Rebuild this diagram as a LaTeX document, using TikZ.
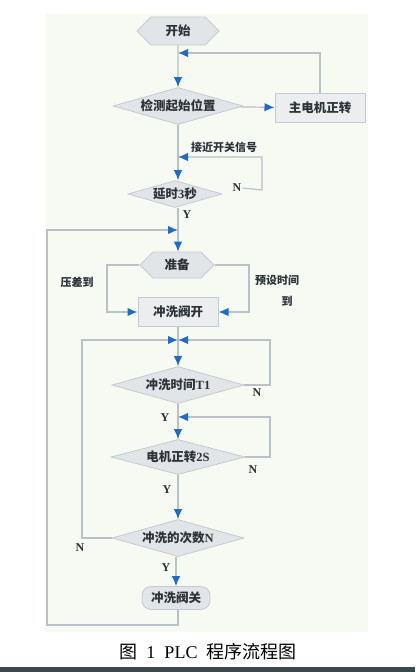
\documentclass[tikz,border=0pt]{standalone}
\usepackage{fontspec}
\setmainfont{Liberation Serif}
\newfontfamily\cjk{Noto Sans CJK SC}
\usetikzlibrary{shapes.geometric,shapes.symbols,arrows.meta}
\definecolor{ln}{HTML}{B9C0C6}
\definecolor{tip}{HTML}{1F6BC6}
\definecolor{nfill}{HTML}{E2E5E8}
\definecolor{nbord}{HTML}{C5CACF}
\definecolor{bg}{HTML}{F7FAF3}
\definecolor{txt}{HTML}{2E3338}
\definecolor{bar}{HTML}{3A4A4A}
\begin{document}
\begin{tikzpicture}[x=1pt,y=-1pt,
  every node/.style={text=txt,font=\fontsize{12.5}{14}\selectfont\bfseries},
  hexa/.style={signal, signal to=east and west, fill=nfill, draw=nbord, line width=0.8pt, inner sep=0pt},
  dia/.style={diamond, fill=nfill, draw=nbord, line width=0.8pt, inner sep=0pt},
  box/.style={rectangle, fill=nfill!70, draw=nbord, line width=1pt, inner sep=0pt},
  lab/.style={font=\fontsize{11}{13}\selectfont\bfseries, inner sep=1pt},
  yn/.style={font=\fontsize{12}{13}\selectfont\bfseries, inner sep=1pt},
  con/.style={draw=ln, line width=1.2pt},
  arr/.style={con, -{Latex[length=10pt,width=8.5pt,color=tip]}}
]
\useasboundingbox (0,0) rectangle (415,672);
\fill[white] (0,0) rectangle (415,672);
\fill[bg] (45,14) rectangle (368,632);
\fill[bar] (0,667) rectangle (415,672);

% nodes
\node[hexa, minimum width=82pt, minimum height=28pt] (start) at (178,31) {\cjk 开始};
\node[dia, minimum width=130pt, minimum height=37pt, aspect=3.5] (det) at (178,106) {\cjk 检测起始位置};
\node[box, minimum width=90pt, minimum height=29pt] (motor) at (320,108) {\cjk 主电机正转};
\node[dia, minimum width=94pt, minimum height=27pt, aspect=3.5] (delay) at (175,194) {{\cjk 延时}3{\cjk 秒}};
\node[hexa, minimum width=74pt, minimum height=26pt] (prep) at (177,265) {\cjk 准备};
\node[box, minimum width=80pt, minimum height=29pt] (open) at (178,312) {\cjk 冲洗阀开};
\node[dia, minimum width=132pt, minimum height=37pt, aspect=3.6] (t1) at (178,385) {{\cjk 冲洗时间}T1};
\node[dia, minimum width=134pt, minimum height=35pt, aspect=3.8] (mot2) at (178,457) {{\cjk 电机正转}2S};
\node[dia, minimum width=132pt, minimum height=37pt, aspect=3.6] (cnt) at (178,538) {{\cjk 冲洗的次数}N};
\node[rectangle, rounded corners=9pt, fill=nfill, draw=nbord, line width=0.8pt, minimum width=68pt, minimum height=23pt, inner sep=0pt] (close) at (176,598) {\cjk 冲洗阀关};

% labels
\node[lab] (ljk) at (224,147) {\cjk 接近开关信号};
\node[yn] (nD) at (237,188) {N};
\node[yn] (yD) at (187,215) {Y};
\node[lab] (lyc) at (77,282) {\cjk 压差到};
\node[lab] (lys) at (277,280) {\cjk 预设时间};
\node[lab] (lyd) at (287,301) {\cjk 到};
\node[yn] (nT) at (257,393) {N};
\node[yn] (yT) at (165,418) {Y};
\node[yn] (nM) at (253,470) {N};
\node[yn] (yM) at (167,490) {Y};
\node[yn] (nC) at (80,548) {N};
\node[yn] (yC) at (166,568) {Y};

% merge coordinates
\coordinate (m1) at (178,53);
\coordinate (m2) at (178,157);
\coordinate (m3) at (178,230);
\coordinate (m4) at (178,340);
\coordinate (m5) at (178,417);
\coordinate (bl) at (47,625);
\coordinate (lw) at (107,312);
\coordinate (rw) at (249,312);

% connectors
\draw[arr] (start) -- (det);
\draw[arr] (det) -- (motor);
\draw[arr] (motor.north) |- (m1);
\draw[arr] (det.south) -- (delay.north -| det.south);
\draw[arr] (nD.east) -- (262,190) |- (m2);
\draw[arr] (delay.south -| det.south) -- (prep.north -| det.south);
\draw[arr] (close.south -| det.south) |- (bl) |- (m3);
\draw[arr] (prep.west) -| (lw) -- (open.west);
\draw[arr] (prep.east) -| (rw) -- (open.east);
\draw[arr] (open) -- (t1);
\draw[arr] (t1.east) -- (270,385) |- (m4);
\draw[arr] (cnt.west) -- (82,538) |- (m4);
\draw[arr] (t1) -- (mot2);
\draw[arr] (mot2.east) -- (270,457) |- (m5);
\draw[arr] (mot2) -- (cnt);
\draw[arr] (cnt.south -| close.south) -- (close);

% caption
\node[font=\fontsize{18}{21}\selectfont, text=black] (cap) at (208,652) {{\cjk 图}\ \ 1\ \ PLC\ \ {\cjk 程序流程图}};
\end{tikzpicture}
\end{document}
